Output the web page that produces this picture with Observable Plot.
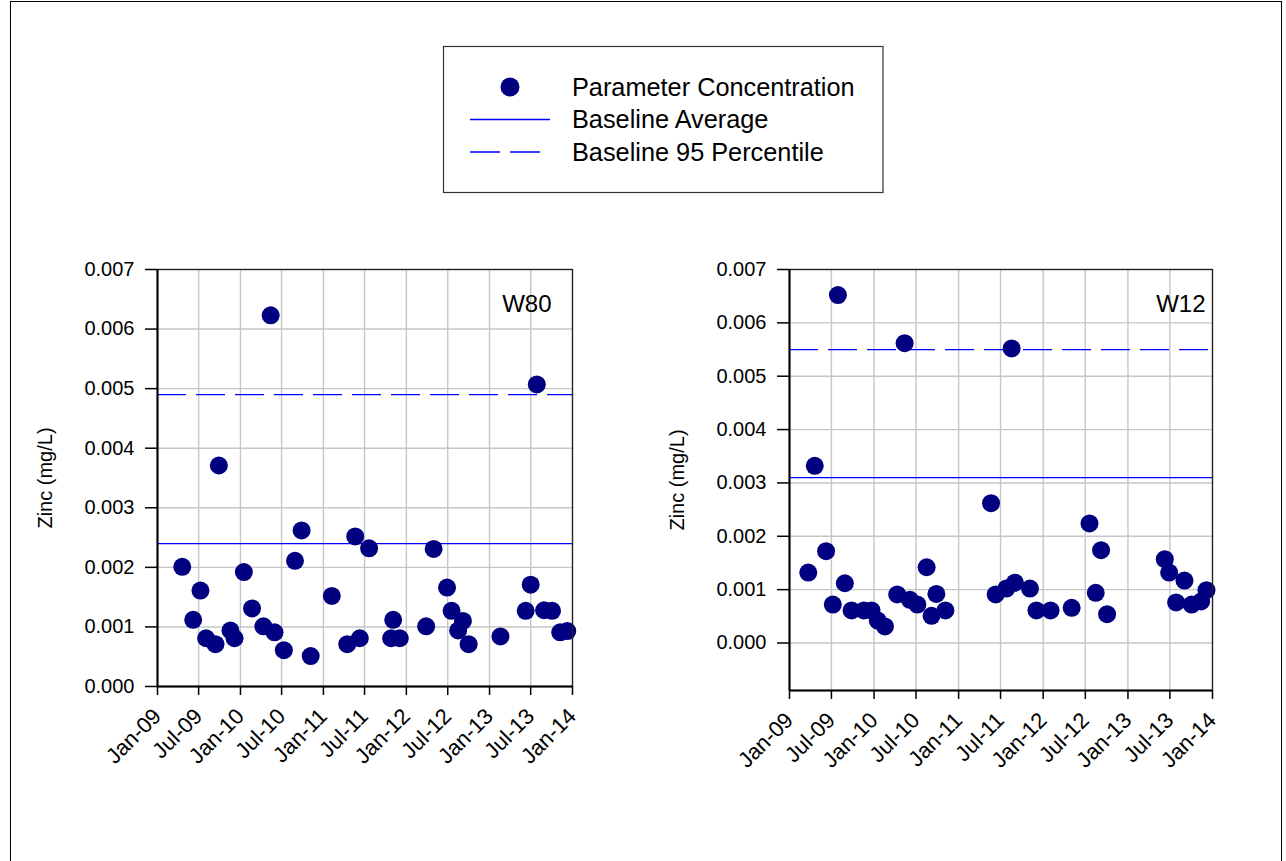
<!DOCTYPE html>
<html>
<head>
<meta charset="utf-8">
<script src="https://cdn.jsdelivr.net/npm/d3@7"></script>
<script src="https://cdn.jsdelivr.net/npm/@observablehq/plot@0.6"></script>
<style>
  html, body { margin: 0; padding: 0; background: #fff; }
  body { width: 1286px; height: 861px; position: relative; overflow: hidden; font-family: "Liberation Sans", Arial, sans-serif; }
  #page-border { position: absolute; left: 10px; top: 1px; width: 1272px; height: 900px; border: 1.5px solid #000; box-sizing: border-box; }
  .panel { position: absolute; top: 0; }
  #legend { position: absolute; left: 0; top: 0; }
</style>
</head>
<body>
<div id="page-border"></div>
<div id="legend"></div>
<div id="left" class="panel" style="left:0px"></div>
<div id="right" class="panel" style="left:640px"></div>
<script>
// Sampling dates and zinc concentrations (mg/L), well W80
const w80Dates = [
  "2009-04-20","2009-06-07","2009-07-09","2009-08-03","2009-09-13","2009-09-28",
  "2009-11-18","2009-12-06","2010-01-16","2010-02-21","2010-04-12","2010-05-14",
  "2010-05-31","2010-07-11","2010-08-29","2010-09-27","2010-11-06","2011-02-07",
  "2011-04-16","2011-05-21","2011-06-10","2011-07-21","2011-10-26","2011-11-04",
  "2011-12-03","2012-03-28","2012-04-30","2012-06-28","2012-07-18","2012-08-16",
  "2012-09-06","2012-10-01","2013-02-18","2013-06-09","2013-07-01","2013-07-28",
  "2013-08-29","2013-10-03","2013-11-08","2013-12-09"
];
const w80Values = [
  0.00201, 0.00112, 0.00161, 0.00081, 0.00071, 0.00371,
  0.00094, 0.00081, 0.00192, 0.00131, 0.00101, 0.00623,
  0.00091, 0.00061, 0.00211, 0.00262, 0.00051, 0.00152,
  0.00071, 0.00252, 0.00081, 0.00232, 0.00081, 0.00112,
  0.00081, 0.00101, 0.00231, 0.00166, 0.00127, 0.00094,
  0.00110, 0.00071, 0.00084, 0.00127, 0.00171, 0.00507,
  0.00128, 0.00127, 0.00091, 0.00093
];

// Sampling dates and zinc concentrations (mg/L), well W12
const w12Dates = [
  "2009-03-23","2009-04-20","2009-06-08","2009-07-07","2009-07-29","2009-08-28",
  "2009-09-26","2009-11-18","2009-12-21","2010-01-17","2010-02-17","2010-04-11",
  "2010-05-13","2010-06-05","2010-07-07","2010-08-16","2010-09-06","2010-09-27",
  "2010-11-05","2011-05-21","2011-06-10","2011-07-26","2011-08-18","2011-09-01",
  "2011-11-05","2011-12-03","2012-02-02","2012-05-03","2012-07-19","2012-08-15",
  "2012-09-07","2012-10-03","2013-06-09","2013-06-28","2013-07-28","2013-09-02",
  "2013-10-03","2013-11-13","2013-12-06"
];
const w12Values = [
  0.00132, 0.00332, 0.00172, 0.00072, 0.00652, 0.00112,
  0.00061, 0.00061, 0.00061, 0.00042, 0.00031, 0.00091,
  0.00562, 0.00081, 0.00072, 0.00142, 0.00051, 0.00092,
  0.00061, 0.00262, 0.00091, 0.00102, 0.00552, 0.00113,
  0.00102, 0.00061, 0.00061, 0.00066, 0.00224, 0.00094,
  0.00174, 0.00054, 0.00157, 0.00132, 0.00076, 0.00117,
  0.00072, 0.00078, 0.00099
];

// Baseline statistics per well
const w80Baseline = { average: 0.0024, p95: 0.0049 };
const w12Baseline = { average: 0.0031, p95: 0.0055 };

// Axis ticks
const yTicks = [0, 0.001, 0.002, 0.003, 0.004, 0.005, 0.006, 0.007];
const xTickLabels = ["Jan-09","Jul-09","Jan-10","Jul-10","Jan-11","Jul-11","Jan-12","Jul-12","Jan-13","Jul-13","Jan-14"];

// Legend entries
const legendLabels = ["Parameter Concentration", "Baseline Average", "Baseline 95 Percentile"];

const parseDay = d3.utcParse("%Y-%m-%d");
const parseTick = d3.utcParse("%b-%y");
const fmtTick = d3.utcFormat("%b-%y");
const xTicks = xTickLabels.map(parseTick);

const NAVY = "#000080";
const BLUE = "#0000ff";
const GRID = "#c6c6c6";
const FONT = "'Liberation Sans', Arial, sans-serif";

function panel({dates, values, baseline, name, yMin, svgWidth, mLeft, mRight, mBottom, nameDx}) {
  const data = dates.map((d, i) => ({date: parseDay(d), value: values[i]}));
  return Plot.plot({
    width: svgWidth,
    height: 780,
    marginLeft: mLeft,
    marginRight: mRight,
    marginTop: 269,
    marginBottom: mBottom,
    style: {fontFamily: FONT, fontSize: "20px", color: "#000", background: "transparent", overflow: "visible"},
    x: {type: "utc", domain: [xTicks[0], xTicks[xTicks.length - 1]]},
    y: {domain: [yMin, 0.007]},
    marks: [
      Plot.gridX(xTicks, {stroke: GRID, strokeOpacity: 1, strokeWidth: 1.4}),
      Plot.gridY(yTicks, {stroke: GRID, strokeOpacity: 1, strokeWidth: 1.4}),
      Plot.ruleY([baseline.average], {stroke: BLUE, strokeWidth: 1.3}),
      Plot.ruleY([baseline.p95], {stroke: BLUE, strokeWidth: 1.3, strokeDasharray: "29,10"}),
      Plot.dot(data, {x: "date", y: "value", r: 9, fill: NAVY, stroke: "none"}),
      Plot.frame({stroke: "#222", strokeWidth: 1.3}),
      Plot.ruleX([xTicks[0]], {stroke: "#000", strokeWidth: 2}),
      Plot.ruleY([yMin], {stroke: "#000", strokeWidth: 2}),
      Plot.axisY(yTicks, {
        tickSize: 12, tickPadding: 11, strokeWidth: 1.5, fontSize: 20,
        tickFormat: d3.format(".3f"),
        label: "Zinc (mg/L)", labelAnchor: "center", labelArrow: "none", labelOffset: 120
      }),
      Plot.axisX(xTicks, {
        tickSize: 9, tickPadding: 17, strokeWidth: 1.5, tickRotate: -45, fontSize: 22,
        tickFormat: fmtTick, label: null
      }),
      Plot.text([name], {frameAnchor: "top-right", dx: nameDx, dy: 25, fontSize: 24, fill: "#000"})
    ]
  });
}

document.getElementById("left").append(panel({
  dates: w80Dates, values: w80Values, baseline: w80Baseline, name: "W80",
  yMin: 0, svgWidth: 640, mLeft: 157, mRight: 68, mBottom: 94, nameDx: -21
}));

document.getElementById("right").append(panel({
  dates: w12Dates, values: w12Values, baseline: w12Baseline, name: "W12",
  yMin: -0.00089, svgWidth: 646, mLeft: 149, mRight: 74, mBottom: 90, nameDx: -7
}));

// Legend box above the panels
(function drawLegend() {
  const svg = d3.select("#legend").append("svg")
    .attr("width", 1286).attr("height", 220)
    .style("font-family", FONT);
  svg.append("rect")
    .attr("x", 443.5).attr("y", 46.5).attr("width", 439.5).attr("height", 146)
    .attr("fill", "#fff").attr("stroke", "#333").attr("stroke-width", 1.2);
  const rowY = [87, 119.5, 152];
  svg.append("circle").attr("cx", 510).attr("cy", rowY[0]).attr("r", 9.5).attr("fill", NAVY);
  svg.append("line").attr("x1", 470).attr("x2", 550).attr("y1", rowY[1]).attr("y2", rowY[1])
    .attr("stroke", BLUE).attr("stroke-width", 1.3);
  svg.append("line").attr("x1", 470).attr("x2", 550).attr("y1", rowY[2]).attr("y2", rowY[2])
    .attr("stroke", BLUE).attr("stroke-width", 1.3).attr("stroke-dasharray", "30,10");
  svg.selectAll("text.lg").data(legendLabels).join("text")
    .attr("class", "lg")
    .attr("x", 572).attr("y", (d, i) => rowY[i] + 8.5)
    .attr("font-size", 25.3).attr("fill", "#000")
    .text(d => d);
})();
</script>
</body>
</html>
